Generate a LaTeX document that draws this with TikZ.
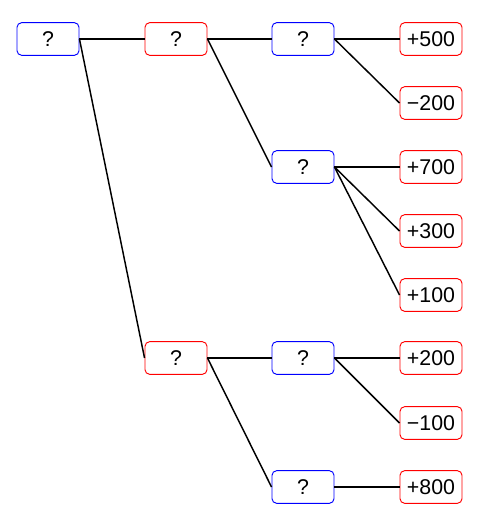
\documentclass[tikz,border=0pt]{standalone}
\usepackage{fontspec}
\setmainfont{Liberation Sans}
\begin{document}
\begin{tikzpicture}[x=0.75pt,y=-0.75pt,
  box/.style={draw,rounded corners=3.5pt,line width=0.7pt,minimum width=46.5pt,minimum height=24.5pt,inner sep=0pt,font=\fontsize{16}{18}\selectfont},
  dec/.style={box,draw=blue},
  chance/.style={box,draw=red},
  edge/.style={line width=1.1pt}]
\useasboundingbox (0,0) rectangle (480,524);
\node[dec] (r) at (48,39) {?};
\node[chance] (a) at (176,39) {?};
\node[chance] (b) at (176,358) {?};
\node[dec] (a1) at (303,39) {?};
\node[dec] (a2) at (303,167) {?};
\node[dec] (b1) at (303,358) {?};
\node[dec] (b2) at (303,487) {?};
\node[chance] (l1) at (431,39) {+500};
\node[chance] (l2) at (431,103) {−200};
\node[chance] (l3) at (431,167) {+700};
\node[chance] (l4) at (431,231) {+300};
\node[chance] (l5) at (431,295) {+100};
\node[chance] (l6) at (431,358) {+200};
\node[chance] (l7) at (431,423) {−100};
\node[chance] (l8) at (431,487) {+800};
\foreach \p/\c in {r/a,r/b,a/a1,a/a2,b/b1,b/b2,a1/l1,a1/l2,a2/l3,a2/l4,a2/l5,b1/l6,b1/l7,b2/l8}
  \draw[edge] (\p.east) -- (\c.west);
\end{tikzpicture}
\end{document}
